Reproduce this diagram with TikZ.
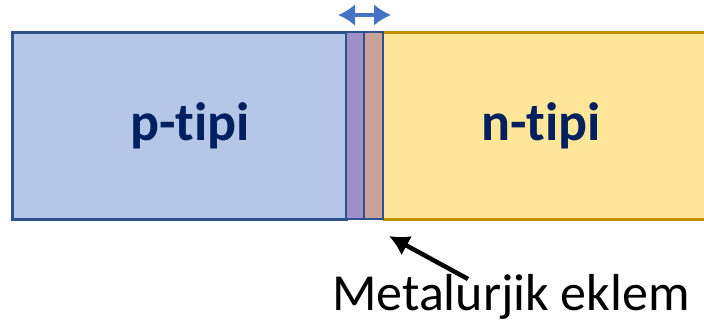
\documentclass[tikz,border=0pt]{standalone}
\usepackage{fontspec}
\setmainfont[Ligatures=NoCommon]{Carlito}
\usetikzlibrary{arrows.meta}
\definecolor{pfill}{HTML}{B4C7E7}
\definecolor{pline}{HTML}{2F528F}
\definecolor{jpurple}{HTML}{9E8FCB}
\definecolor{jpink}{HTML}{C9A29A}
\definecolor{nfill}{HTML}{FFE699}
\definecolor{nline}{HTML}{BF9000}
\definecolor{navy}{HTML}{002060}
\definecolor{arrblue}{HTML}{4472C4}
\tikzset{
  lbl/.style={font=\fontsize{54}{60}\selectfont\bfseries, text=navy},
  captext/.style={font=\fontsize{52}{58}\selectfont, text=black}
}
\begin{document}
\begin{tikzpicture}[x=1pt,y=-1pt]
\useasboundingbox (0,0) rectangle (704,325);
% n region
\fill[nfill] (383,32) rectangle (706,219);
\draw[nline, line width=3pt] (383,32) -- (706,32);
\draw[nline, line width=3pt] (383,219) -- (706,219);
% p region
\draw[pline, fill=pfill, line width=3pt] (12,32) rectangle (346,219);
% junction layers
\draw[pline, fill=jpurple, line width=2.6pt] (346,32) rectangle (364,219);
\draw[pline, fill=jpink, line width=2.6pt] (364,32) rectangle (383,219);
\draw[nline, line width=2pt] (364,34) -- (364,217);
\draw[pline, line width=2.6pt] (364,32) rectangle (383,219);
% labels
\node[lbl] (p) at (190,126) {p-t\kern0pt ipi};
\node[lbl] (n) at (541,126) {n-t\kern0pt ipi};
\node[captext] (m) at (511,297) {Metalurjik eklem};
% width arrow
\coordinate (wa) at (338,15);
\coordinate (wb) at (391,15);
\draw[arrblue, line width=4pt, {Latex[length=17pt,width=22pt]}-{Latex[length=17pt,width=22pt]}] (wa) -- (wb);
% pointer arrow
\coordinate (tip) at (389,236);
\coordinate (tail) at (468,279);
\draw[black, line width=4.5pt, -{Latex[length=20pt,width=22pt]}] (tail) -- (tip);
\end{tikzpicture}
\end{document}
